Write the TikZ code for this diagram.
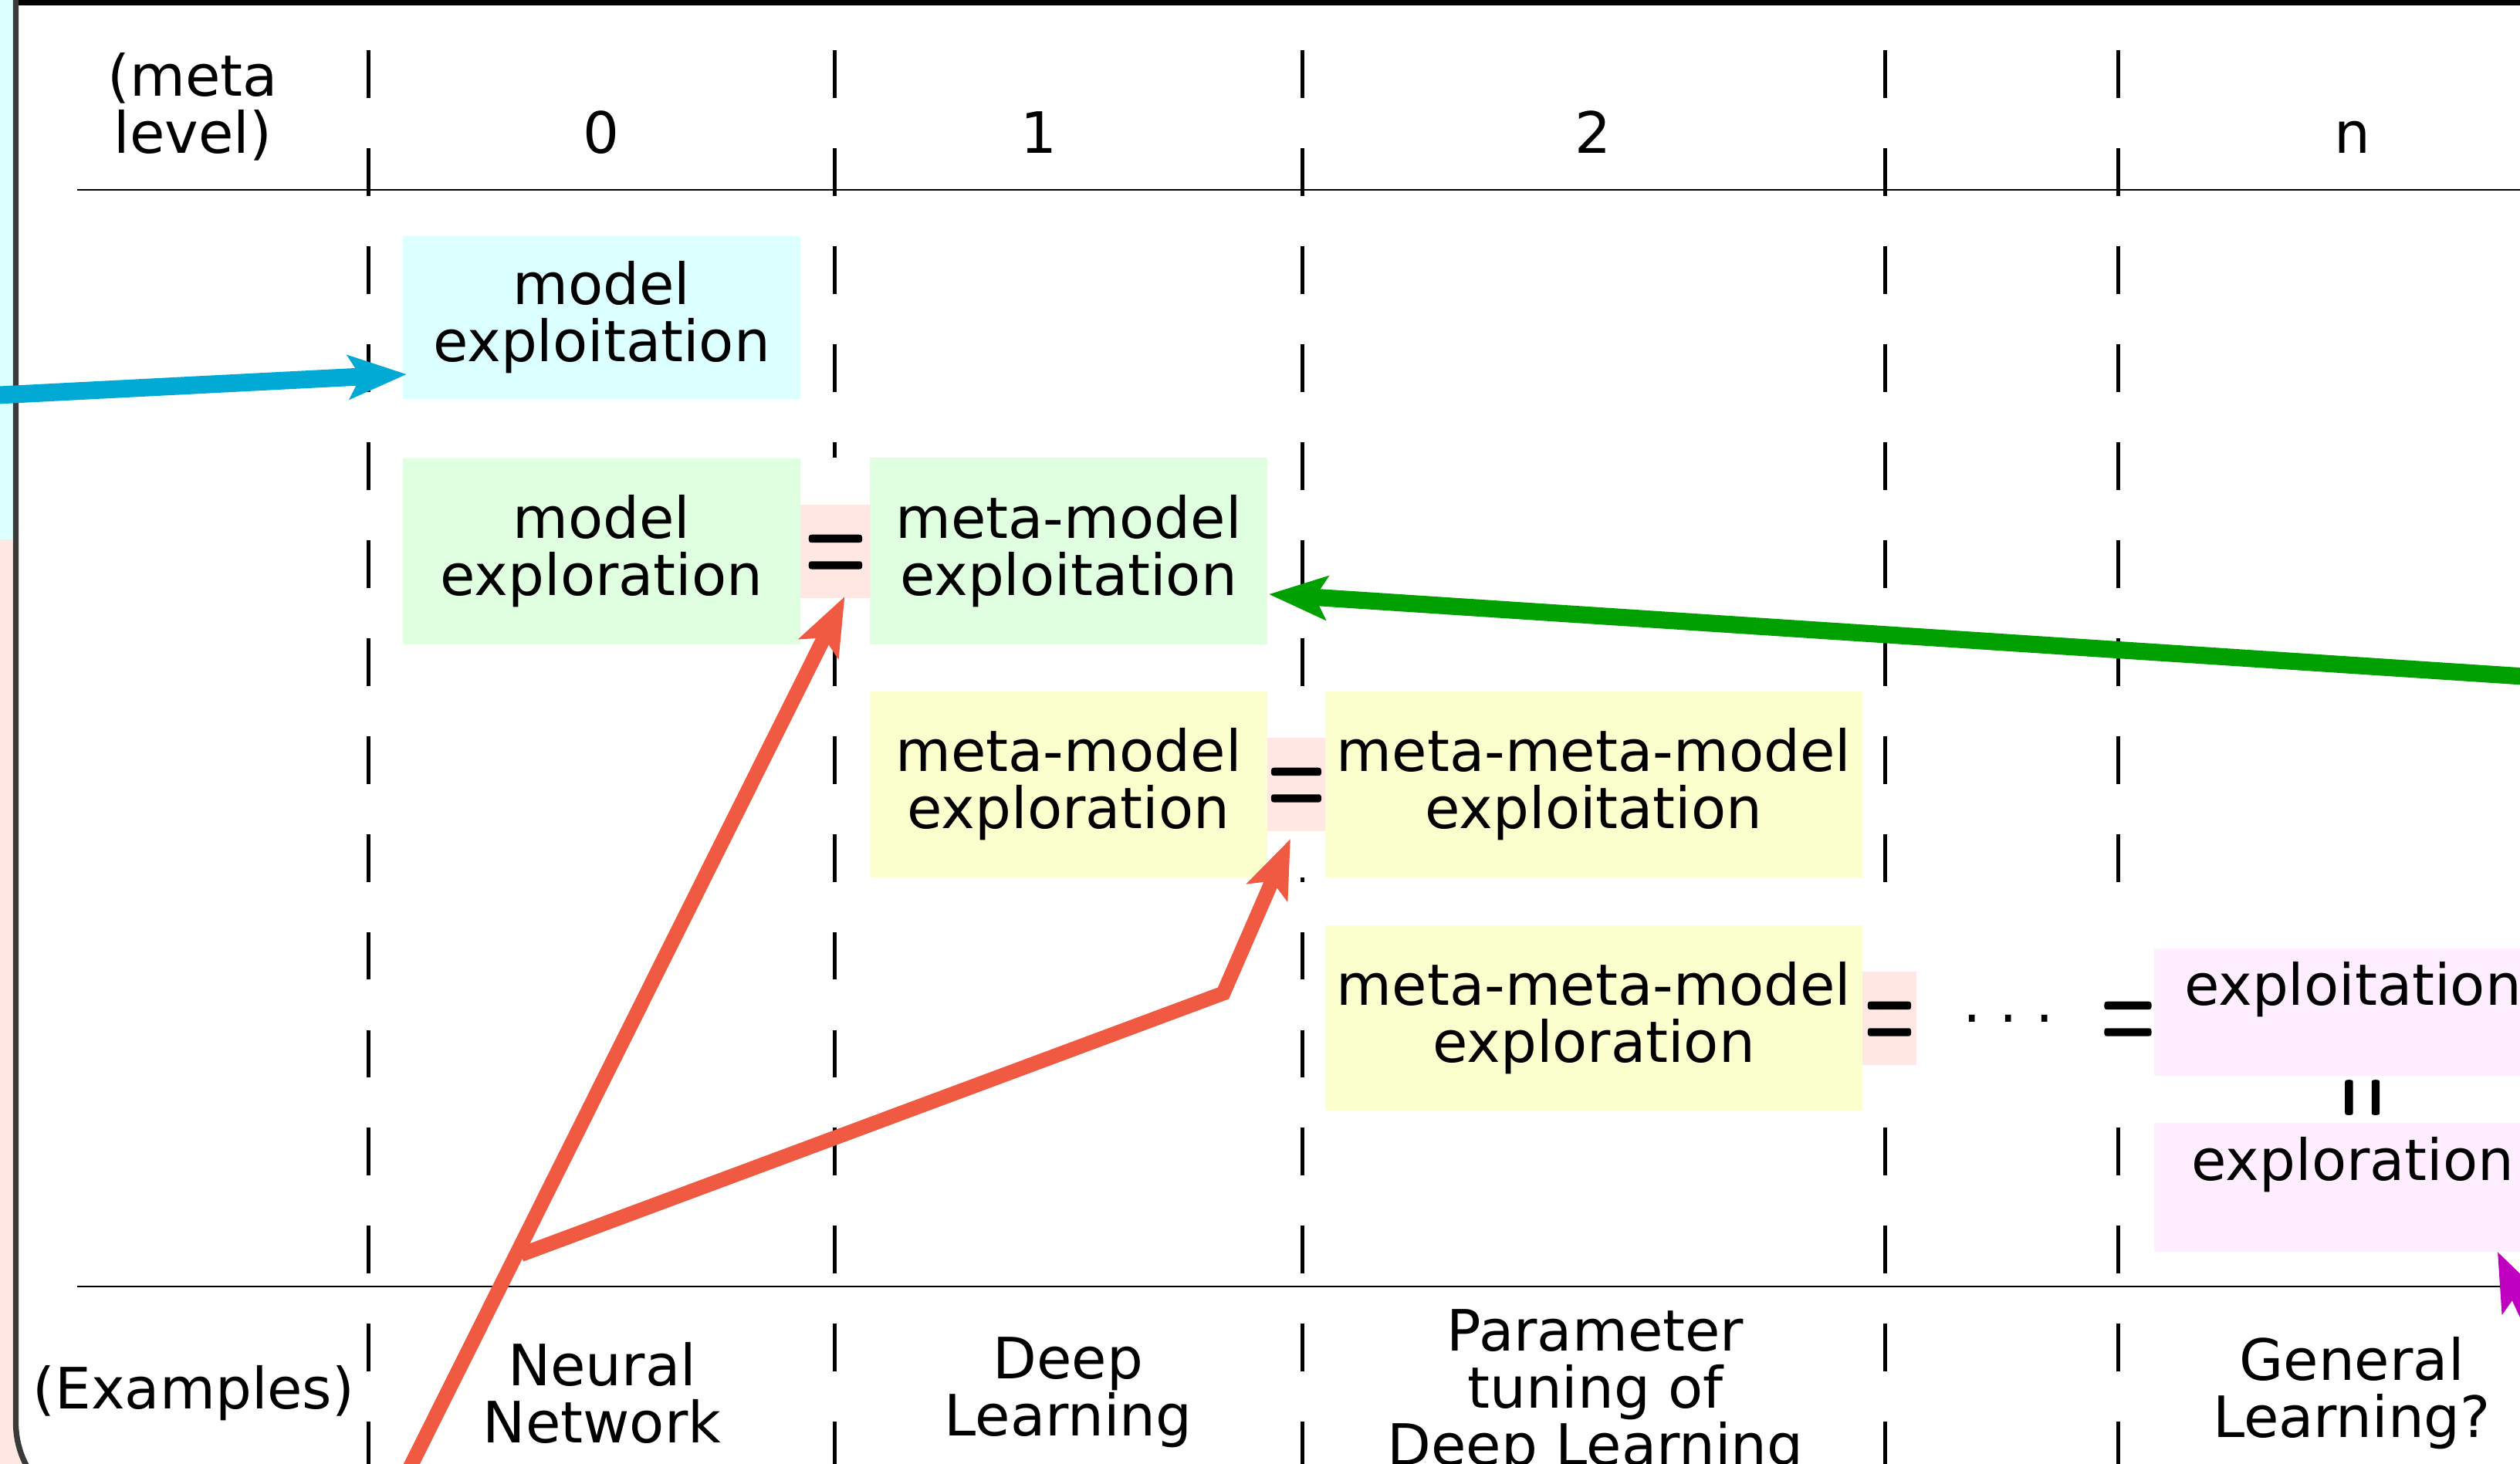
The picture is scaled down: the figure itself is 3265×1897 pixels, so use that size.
\documentclass[tikz,border=0pt]{standalone}
\usepackage{fontspec}
\setmainfont{DejaVu Sans}
\newfontfamily\igualfont{Latin Modern Roman}[FakeBold=1.85]
\usetikzlibrary{arrows.meta,calc}

\definecolor{caixacian}{RGB}{220,255,255}
\definecolor{caixaverda}{RGB}{224,255,224}
\definecolor{caixagroga}{RGB}{250,255,205}
\definecolor{caixarosa}{RGB}{255,232,227}
\definecolor{caixalila}{RGB}{255,238,255}
\definecolor{fletxacian}{RGB}{0,170,212}
\definecolor{fletxaverda}{RGB}{0,160,0}
\definecolor{fletxavermella}{RGB}{241,90,66}
\definecolor{fletxalila}{RGB}{192,0,192}
\definecolor{marc}{RGB}{58,58,58}

\newcommand{\igual}[1]{\makebox[0pt]{\scalebox{#1}[1]{=}}}

\begin{document}
\begin{tikzpicture}[x=0.01cm,y=-0.01cm,
	every node/.style={font=\fontsize{21}{21}\selectfont},
	caixa/.style={inner sep=0pt,align=center,minimum width=5.15cm},
	igualtat/.style={font=\igualfont\fontsize{55.2}{55.2}\selectfont,inner sep=0pt,
		text height=31.2pt,text depth=3.27pt},
	separador/.style={line width=1.42pt,dash pattern=on 17.6pt off 18.5pt},
	fletxa/.style={line width=5.4pt,
		-{Stealth[length=21.3pt,width=15.9pt,inset=4.3pt]}}]

	\useasboundingbox (0,0) rectangle (3265,1897);
	\clip (0,0) rectangle (3265,1897);

	% Marc
	\fill[caixacian] (0,0) rectangle (17,699);
	\fill[caixarosa] (0,699) rectangle (140,1897);
	\fill[white,rounded corners=34pt] (20.5,600) -- (20.5,1963) -- (400,1963) -- (400,600) -- cycle;
	\draw[marc,line width=2.08pt,rounded corners=34pt] (20.5,-10) -- (20.5,1963) -- (3400,1963);
	\draw[line width=3.8pt] (24,0) -- (3300,0);

	% Linies
	\draw[line width=0.57pt] (100,246) -- (3300,246);
	\draw[line width=0.57pt] (100,1667) -- (3300,1667);
	\foreach \x in {477,1081.5,1687,2442,2744.5}
		\draw[separador] (\x,65) -- (\x,1960);

	% Fons de les files
	\fill[white] (522,593) rectangle (1642,835);
	\fill[white] (1127,896) rectangle (2413,1137);
	\fill[white] (1717,1199) rectangle (3306,1439);

	% Capcalera
	\node[align=center] (meta) at (250,138) {(meta\\level)};
	\node[anchor=base] (nivell0) at (779,199) {0};
	\node[anchor=base] (nivell1) at (1346,199) {1};
	\node[anchor=base] (nivell2) at (2064,199) {2};
	\node[anchor=base] (nivelln) at (3048,199) {n};

	% Caixes
	\node[caixa,fill=caixacian,minimum height=2.11cm] (mexpt) at (779.5,411.5) {model\\exploitation};
	\node[caixa,fill=caixaverda,minimum height=2.41cm] (mexpr) at (779.5,714.5) {model\\exploration};
	\node[caixa,fill=caixaverda,minimum height=2.42cm] (mmexpt) at (1384.5,714) {meta-model\\exploitation};
	\node[caixa,fill=caixagroga,minimum height=2.41cm] (mmexpr) at (1384.5,1016.5) {meta-model\\exploration};
	\node[caixa,fill=caixagroga,minimum width=6.96cm,minimum height=2.41cm] (mmmexpt) at (2065,1016.5) {meta-meta-model\\exploitation};
	\node[caixa,fill=caixagroga,minimum width=6.96cm,minimum height=2.40cm] (mmmexpr) at (2065,1319) {meta-meta-model\\exploration};
	\node[caixa,fill=caixalila,text height=20.8pt,text depth=26.2pt] (gexpt) at (3048.5,1311.5) {exploitation};
	\node[caixa,fill=caixalila,text height=21.1pt,text depth=26.5pt] (gexpr) at (3048.5,1538.5) {exploration};

	% Igualtats
	\node[igualtat,fill=caixarosa,minimum width=0.91cm] (ig1) at (1082.5,714.5) {\igual{0.555}};
	\node[igualtat,fill=caixarosa,minimum width=0.75cm] (ig2) at (1679.5,1016.5) {\igual{0.52}};
	\node[igualtat,fill=caixarosa,minimum width=0.7cm] (ig3) at (2448,1319.5) {\igual{0.45}};
	\node[igualtat] (ig4) at (2757,1319.5) {\igual{0.49}};
	\node[igualtat,rotate=90] (ig5) at (3060,1422) {\igual{0.365}};
	\node[anchor=base] (punts) at (2602,1345) {· · ·};

	% Exemples
	\node[anchor=base] (exemples) at (251,1825) {(Examples)};
	\node[align=center] (xarxa) at (780,1805) {Neural\\Network};
	\node[align=center] (profund) at (1384,1804) {Deep\\Learning};
	\node[align=center] (ajust) at (2067,1805) {Parameter\\tuning of\\Deep Learning};
	\node[align=center] (general) at (3047,1805) {General\\Learning?};

	% Fletxes
	\coordinate (cianini) at (-100,517);
	\coordinate (verdaini) at (3400,885);
	\coordinate (vermini) at (482,2000);
	\coordinate (colze) at (1585,1287);
	\coordinate (lilaini) at (3400,1975);
	\coordinate (puntaA) at ([shift={(12,-3)}]ig1.south);
	\coordinate (unio) at ([shift={(6,0)}]$(vermini)!0.305!(puntaA)$);

	\draw[fletxa,fletxacian,line width=6.5pt] (cianini) -- ([shift={(6,73.5)}]mexpt.west);
	\draw[fletxa,fletxaverda,line width=6.3pt] (verdaini) -- ([shift={(1,56)}]mmexpt.east);
	\draw[fletxa,fletxavermella] (vermini) -- (puntaA);
	\draw[fletxa,fletxavermella] (unio) -- (colze) -- ([shift={(-7.5,9)}]ig2.south);
	\draw[fletxa,fletxalila] (lilaini) -- ([shift={(-71,-1)}]gexpr.south east);

\end{tikzpicture}
\end{document}
